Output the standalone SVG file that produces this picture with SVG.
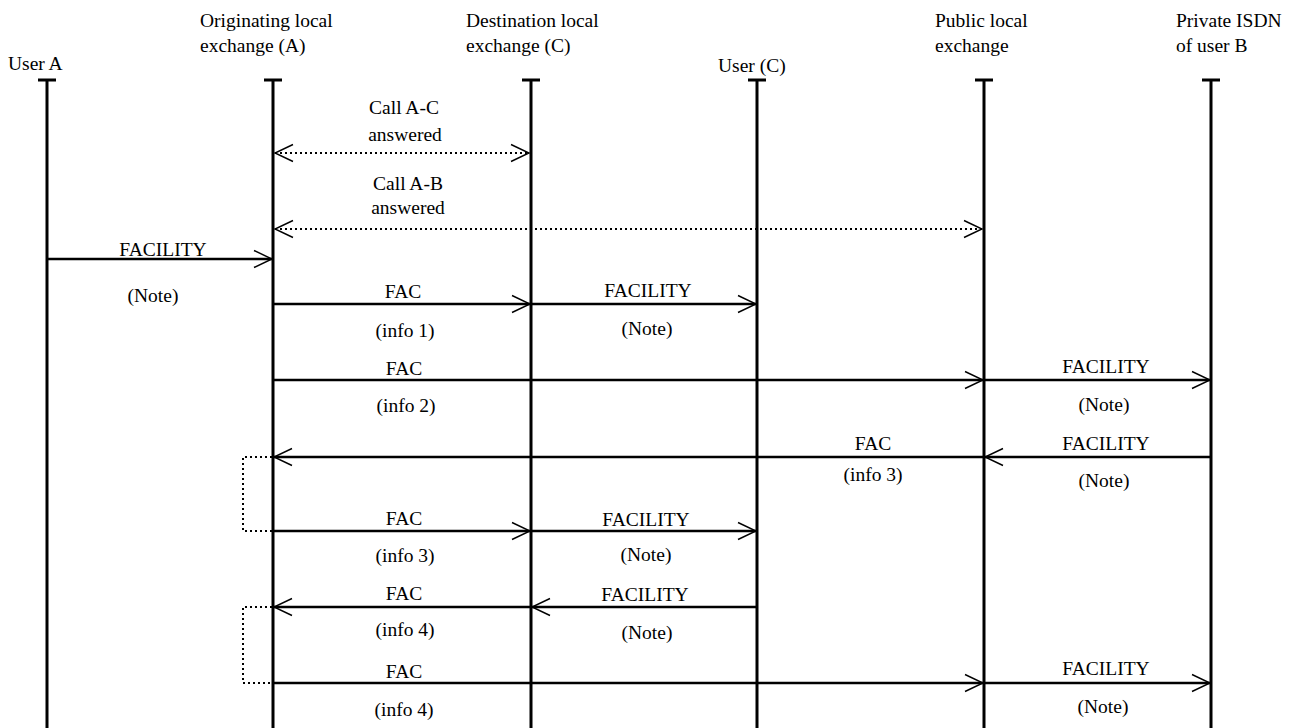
<svg xmlns="http://www.w3.org/2000/svg" width="1291" height="728" viewBox="0 0 1291 728">
<style>
text{font-family:"Liberation Serif","Times New Roman",serif;font-size:19.5px;fill:#000}
.c{text-anchor:middle}
.life{stroke:#000;stroke-width:3;fill:none}
.msg{stroke:#000;stroke-width:2.5;fill:none;marker-end:url(#ah)}
.dot{stroke:#000;stroke-width:2;fill:none;stroke-dasharray:2 3}
.dotarr{stroke:#000;stroke-width:2;fill:none;stroke-dasharray:2 3;marker-end:url(#ah);marker-start:url(#ah)}
</style>
<defs>
<marker id="ah" markerUnits="userSpaceOnUse" markerWidth="22" markerHeight="22" viewBox="-20 -11 22 22" refX="0" refY="0" orient="auto-start-reverse">
<path d="M-18,-8.5 L0,0 L-18,8.5" fill="none" stroke="#000" stroke-width="1.4"/>
</marker>
</defs>
<rect width="1291" height="728" fill="#fff"/>
<g id="userA"><text x="8" y="70">User A</text><path class="life" d="M38,80H56M47,80V728"/></g>
<g id="origA"><text x="200" y="27">Originating local</text><text x="200" y="52">exchange (A)</text><path class="life" d="M264,80H282M273,80V728"/></g>
<g id="destC"><text x="466" y="27">Destination local</text><text x="466" y="52">exchange (C)</text><path class="life" d="M522,80H540M531,80V728"/></g>
<g id="userC"><text x="718" y="72">User (C)</text><path class="life" d="M748,80H766M757,80V728"/></g>
<g id="pub"><text x="935" y="27">Public local</text><text x="935" y="52">exchange</text><path class="life" d="M975,80H993M984,80V728"/></g>
<g id="priv"><text x="1176" y="27">Private ISDN</text><text x="1176" y="52">of user B</text><path class="life" d="M1202,80H1220M1211,80V728"/></g>
<g id="connectors">
<path class="dotarr" d="M275,153H529"/>
<path class="dotarr" d="M275,229H982"/>
<path class="msg" d="M47,259H272"/>
<path class="msg" d="M273,304H530"/>
<path class="msg" d="M531,304H756"/>
<path class="msg" d="M273,380H983"/>
<path class="msg" d="M984,380H1210"/>
<path class="msg" d="M1211,457H985"/>
<path class="msg" d="M984,457H274"/>
<path class="msg" d="M273,531H530"/>
<path class="msg" d="M531,531H756"/>
<path class="msg" d="M531,607H274"/>
<path class="msg" d="M757,607H532"/>
<path class="msg" d="M273,683H983"/>
<path class="msg" d="M984,683H1210"/>
<path class="dot" d="M272,457H243V531H272"/>
<path class="dot" d="M272,607H243V683H272"/>
</g>
<g id="labels">
<text class="c" x="404" y="114">Call A-C</text><text class="c" x="405" y="141">answered</text>
<text class="c" x="408" y="190">Call A-B</text><text class="c" x="408" y="214">answered</text>
<text class="c" x="163" y="256">FACILITY</text><text class="c" x="153" y="302">(Note)</text>
<text class="c" x="403" y="298">FAC</text><text class="c" x="405" y="337">(info 1)</text>
<text class="c" x="648" y="297">FACILITY</text><text class="c" x="647" y="335">(Note)</text>
<text class="c" x="404" y="375">FAC</text><text class="c" x="406" y="412">(info 2)</text>
<text class="c" x="1106" y="373">FACILITY</text><text class="c" x="1104" y="411">(Note)</text>
<text class="c" x="873" y="450">FAC</text><text class="c" x="873" y="481">(info 3)</text>
<text class="c" x="1106" y="450">FACILITY</text><text class="c" x="1104" y="487">(Note)</text>
<text class="c" x="404" y="525">FAC</text><text class="c" x="405" y="562">(info 3)</text>
<text class="c" x="646" y="526">FACILITY</text><text class="c" x="646" y="561">(Note)</text>
<text class="c" x="404" y="600">FAC</text><text class="c" x="405" y="636">(info 4)</text>
<text class="c" x="645" y="601">FACILITY</text><text class="c" x="647" y="639">(Note)</text>
<text class="c" x="404" y="678">FAC</text><text class="c" x="404" y="716">(info 4)</text>
<text class="c" x="1106" y="675">FACILITY</text><text class="c" x="1103" y="713">(Note)</text>
</g>
</svg>
